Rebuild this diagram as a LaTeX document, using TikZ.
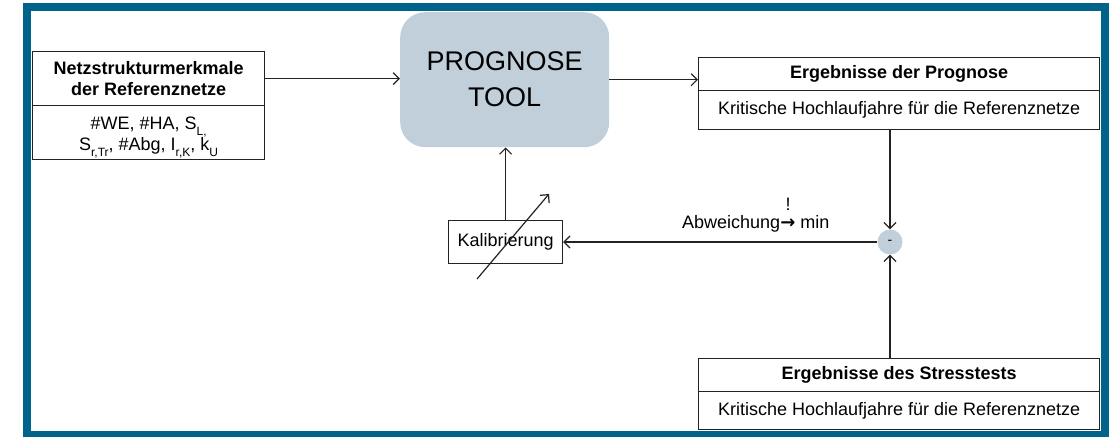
\documentclass[tikz,border=0pt]{standalone}
\usepackage{fontspec}
\setmainfont{Liberation Sans}
\newfontfamily\arrowfont{DejaVu Sans}
\usetikzlibrary{arrows.meta}
\definecolor{framecol}{RGB}{0,99,140}
\definecolor{toolfill}{RGB}{192,207,218}
\definecolor{linecol}{RGB}{35,35,35}
\newcommand\subtx[1]{\raisebox{-0.3em}[0pt][0pt]{\fontsize{12}{12}\selectfont #1}}
\begin{document}
\begin{tikzpicture}[x=1pt,y=-1pt,
  font=\fontsize{18}{21}\selectfont,
  boxpart/.style={draw=linecol, line width=1.2pt, inner sep=0pt, anchor=north west, align=center, text=black},
  boldpart/.style={boxpart, font=\fontsize{18}{21}\selectfont\bfseries},
  conn/.style={draw=linecol, line width=1.2pt, -{Straight Barb[length=6pt,width=12pt,line width=1.2pt]}},
]
\useasboundingbox (0,0) rectangle (1110,436);
\draw[framecol, line width=8pt] (27,7) rectangle (1105,435);

% left box
\node[boldpart, minimum width=232pt, minimum height=54pt] (nh) at (32,51) {Netzstrukturmerkmale\\der Referenznetze};
\node[boxpart, minimum width=232pt, minimum height=54pt] (nb) at (32,105) {\rule{0pt}{19pt}\#WE, \#HA, S\subtx{L,}\\S\subtx{r,Tr}, \#Abg, I\subtx{r,K}, k\subtx{U}};

% tool
\node[fill=toolfill, rounded corners=25pt, minimum width=209pt, minimum height=135pt, inner sep=0pt, anchor=north west, align=center, font=\fontsize{27}{36}\selectfont] (tool) at (400,12) {PROGNOSE\\TOOL};

% result boxes
\node[boldpart, minimum width=401pt, minimum height=33pt] (rh) at (698,57) {Ergebnisse der Prognose};
\node[boxpart, minimum width=401pt, minimum height=39pt] (rb) at (698,90) {Kritische Hochlaufjahre für die Referenznetze};
\node[boldpart, minimum width=401pt, minimum height=33pt] (sh) at (698,358) {Ergebnisse des Stresstests};
\node[boxpart, minimum width=401pt, minimum height=38pt] (sb) at (698,391) {Kritische Hochlaufjahre für die Referenznetze};

% difference circle
\node[circle, fill=toolfill, minimum size=25pt, inner sep=0pt, font=\fontsize{14}{14}\selectfont] (diff) at (890,242) {-};

% calibration
\node[boxpart, minimum width=114pt, minimum height=43pt] (kal) at (448,220) {Kalibrierung};

% connectors
\draw[conn] (nh.east) -- (nh.east -| tool.west);
\draw[conn] (tool.east) -- (tool.east -| rh.west);
\draw[conn] (diff |- rb.south) -- (diff.north);
\draw[conn] (diff |- sh.north) -- (diff.south);
\draw[conn] (diff.west) -- (diff.west -| kal.east);
\draw[conn] (kal.north) -- (kal.north |- tool.south);

\coordinate (d1) at (477,279);
\coordinate (d2) at (549,194);
\draw[conn] (d1) -- (d2);

\node[anchor=base west, inner sep=0pt] (abw) at (682,228) {Abweichung\rlap{\raisebox{18pt}{\hspace{0.3em}!}}{\arrowfont\bfseries →} min};
\end{tikzpicture}
\end{document}
